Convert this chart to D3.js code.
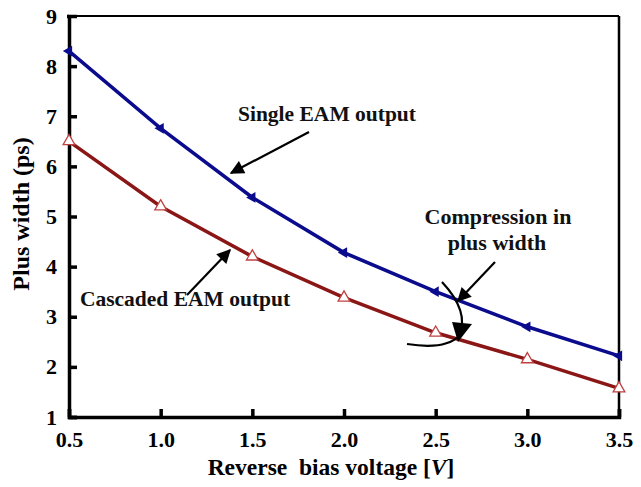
<!DOCTYPE html>
<html>
<head>
<meta charset="utf-8">
<script src="https://cdn.jsdelivr.net/npm/d3@7"></script>
<style>
  body { margin: 0; background: #fff; }
  svg text { font-family: "Liberation Serif", "Times New Roman", "DejaVu Serif", serif; font-weight: bold; }
</style>
</head>
<body>
<svg id="svg" width="641" height="487"></svg>
<script>
"use strict";

// data
const voltage = [0.5, 1.0, 1.5, 2.0, 2.5, 3.0, 3.5];
const singleEAM = [8.3, 6.76, 5.38, 4.28, 3.5, 2.8, 2.22];
const cascadedEAM = [6.5, 5.2, 4.2, 3.38, 2.68, 2.15, 1.57];
const xTicks = [0.5, 1.0, 1.5, 2.0, 2.5, 3.0, 3.5];
const yTicks = [1, 2, 3, 4, 5, 6, 7, 8, 9];

const serif = '"Liberation Serif", "Times New Roman", "DejaVu Serif", serif';

const svg = d3.select("#svg");
const margin = { left: 69, right: 22, top: 16, bottom: 70 };
const w = 641 - margin.left - margin.right;
const h = 487 - margin.top - margin.bottom;

const x = d3.scaleLinear().domain([0.5, 3.5]).range([0, w]);
const y = d3.scaleLinear().domain([1, 9]).range([h, 0]);

const g = svg.append("g").attr("transform", `translate(${margin.left},${margin.top})`);

// frame: top + right thinner
g.append("line").attr("x1", 0).attr("x2", w).attr("y1", 0).attr("y2", 0)
	.attr("stroke", "#000").attr("stroke-width", 2);
g.append("line").attr("x1", w).attr("x2", w).attr("y1", 0).attr("y2", h)
	.attr("stroke", "#000").attr("stroke-width", 2.5);

// axes with inward ticks
const xAxis = g.append("g")
	.attr("transform", `translate(0,${h})`)
	.call(d3.axisBottom(x).tickValues(xTicks).tickSize(-8).tickPadding(14).tickFormat(d3.format(".1f")));
const yAxis = g.append("g")
	.call(d3.axisLeft(y).tickValues(yTicks).tickSize(-8).tickPadding(12).tickFormat(d3.format("d")));

[xAxis, yAxis].forEach((a) => {
	a.attr("font-family", null).attr("font-size", null);
	a.select(".domain").attr("stroke", "#000").attr("stroke-width", 3.5);
	a.selectAll(".tick line").attr("stroke", "#000").attr("stroke-width", 3.5);
	a.selectAll(".tick text")
		.attr("fill", "#000")
		.style("font-family", serif)
		.style("font-weight", "bold")
		.style("font-size", "22px");
});
// no tick drawn over the top frame line
yAxis.selectAll(".tick").filter((d) => d === 9).select("line").attr("x2", -2);

// lines
const line = d3.line().x((d) => x(d[0])).y((d) => y(d[1]));
const blue = "#0b0b8e";
const red = "#8b1616";

g.append("path")
	.datum(d3.zip(voltage, singleEAM))
	.attr("d", line)
	.attr("fill", "none")
	.attr("stroke", blue)
	.attr("stroke-width", 3.5);

g.append("path")
	.datum(d3.zip(voltage, cascadedEAM))
	.attr("d", line)
	.attr("fill", "none")
	.attr("stroke", red)
	.attr("stroke-width", 3.5);

// markers
const tri = d3.symbol().type(d3.symbolTriangle);
g.selectAll(".mBlue")
	.data(d3.zip(voltage, singleEAM))
	.enter()
	.append("path")
	.attr("class", "mBlue")
	.attr("d", tri.size(50))
	.attr("transform", (d) => `translate(${x(d[0])},${y(d[1])}) rotate(150)`)
	.attr("fill", blue);

g.selectAll(".mRed")
	.data(d3.zip(voltage, cascadedEAM))
	.enter()
	.append("path")
	.attr("class", "mRed")
	.attr("d", tri.size(60))
	.attr("transform", (d) => `translate(${x(d[0])},${y(d[1])})`)
	.attr("fill", "#fff")
	.attr("stroke", "#c04040")
	.attr("stroke-width", 1.3);

// axis titles
svg.append("text")
	.attr("x", 331)
	.attr("y", 475)
	.attr("text-anchor", "middle")
	.style("font-size", "23.5px")
	.html('Reverse&#160; bias voltage [<tspan font-style="italic">V</tspan>]');

svg.append("text")
	.attr("transform", "translate(29,214) rotate(-90)")
	.attr("text-anchor", "middle")
	.style("font-size", "24px")
	.text("Plus width (ps)");

// annotations
const defs = svg.append("defs");
defs.append("marker")
	.attr("id", "ah")
	.attr("viewBox", "0 0 10 10")
	.attr("refX", 9)
	.attr("refY", 5)
	.attr("markerWidth", 16)
	.attr("markerHeight", 14)
	.attr("markerUnits", "userSpaceOnUse")
	.attr("orient", "auto")
	.append("path")
	.attr("d", "M0,0 L10,5 L0,10 z")
	.attr("fill", "#000");

function arrow(x1, y1, x2, y2) {
	svg.append("line")
		.attr("x1", x1).attr("y1", y1).attr("x2", x2).attr("y2", y2)
		.attr("stroke", "#000").attr("stroke-width", 2.2)
		.attr("marker-end", "url(#ah)");
}

function label(txt, cx, by, fs) {
	svg.append("text")
		.attr("x", cx).attr("y", by)
		.attr("text-anchor", "middle")
		.style("font-size", fs + "px")
		.attr("fill", "#111")
		.text(txt);
}

label("Single EAM output", 327, 121, 21.5);
arrow(309, 132, 231, 173);

label("Cascaded EAM output", 185, 306, 21.5);
arrow(187, 295, 230, 250);

label("Compression in", 498, 224, 22);
label("plus width", 497, 250, 22);
arrow(495, 262, 458, 301);

// curved compression arrow
svg.append("path")
	.attr("d", "M442,282 Q470,312 459,336 Q445,350 407,344")
	.attr("fill", "none")
	.attr("stroke", "#000")
	.attr("stroke-width", 2.2);
svg.append("path")
	.attr("d", "M452,322 L472,324 L458,342 z")
	.attr("fill", "#000");
</script>
</body>
</html>
